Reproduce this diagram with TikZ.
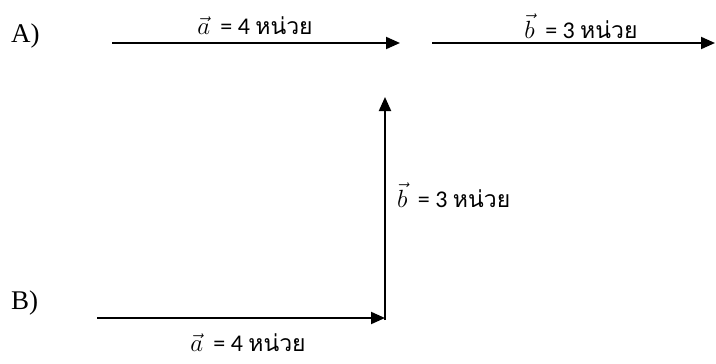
\documentclass[tikz,border=0pt]{standalone}
\usepackage{fontspec}
\setmainfont{Liberation Serif}
\newfontfamily\labfont{Carlito}
\newfontfamily\thaifont[Script=Thai]{Loma}
\usepackage{tikz}
\usetikzlibrary{arrows.meta, positioning}

\tikzset{
  vecarrow/.style={line width=2pt, -{Triangle[length=14pt,width=12pt]}},
  veclabel/.style={font=\fontsize{24}{26}\selectfont\labfont, inner sep=1pt},
  partlabel/.style={font=\fontsize{27}{30}\selectfont, anchor=west, inner sep=0pt}
}
\newcommand{\unitth}{{\thaifont\fontsize{23}{25}\selectfont หน่วย}}
\newcommand{\vecsym}[1]{{\fontsize{30}{30}\selectfont$\vec{#1}$\,}}

\begin{document}
\begin{tikzpicture}[x=1pt, y=-1pt]
  \useasboundingbox (0,0) rectangle (716,364);
  % part A: two vectors in a row
  \node[partlabel] (partA) at (11,36) {A)};
  \coordinate (a1s) at (112,43);
  \coordinate (a1e) at (400,43);
  \coordinate (b1s) at (432,43);
  \coordinate (b1e) at (715,43);
  \draw[vecarrow] (a1s) -- (a1e);
  \draw[vecarrow] (b1s) -- (b1e);
  \node[veclabel] (alabA) at (255,26) {\vecsym{a}\ =\ 4\ \unitth};
  \node[veclabel] (blabA) at (581,26) {\vecsym{b}\ =\ 3\ \unitth};
  % part B: head to tail
  \node[partlabel] (partB) at (11,303) {B)};
  \coordinate (a2s) at (97,318);
  \coordinate (a2e) at (385,318);
  \coordinate (b2s) at (385,320);
  \coordinate (b2e) at (385,97);
  \draw[vecarrow] (a2s) -- (a2e);
  \draw[vecarrow] (b2s) -- (b2e);
  \node[veclabel] (alabB) at (248,343) {\vecsym{a}\ =\ 4\ \unitth};
  \node[veclabel, anchor=west] (blabB) at (396,195) {\vecsym{b}\ =\ 3\ \unitth};
\end{tikzpicture}
\end{document}
